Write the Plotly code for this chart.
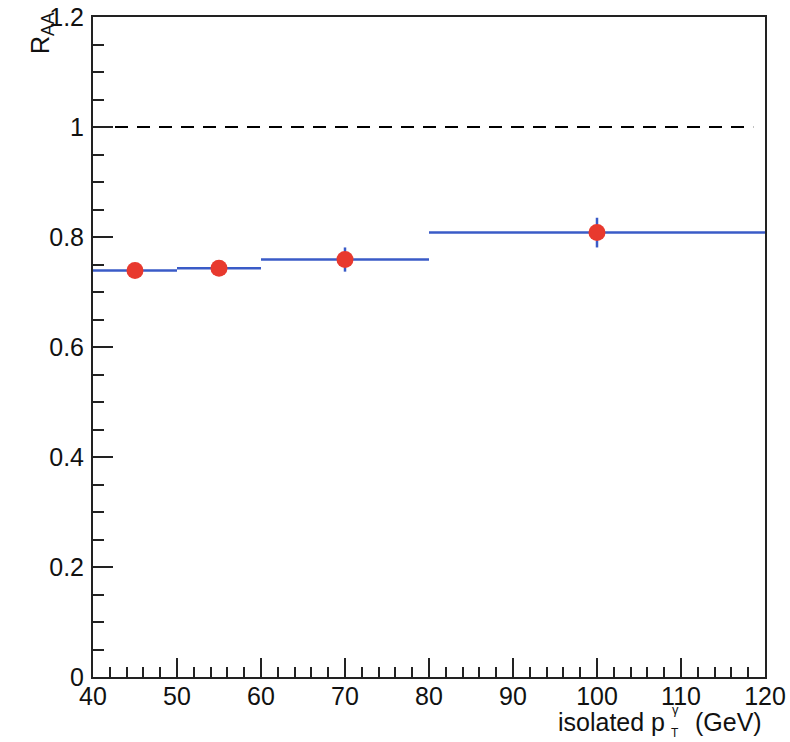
import plotly.graph_objects as go

# Data
pt_centers = [45, 55, 70, 100]
pt_halfwidth = [5, 5, 10, 20]
raa = [0.739, 0.743, 0.759, 0.808]
raa_err = [0.012, 0.012, 0.022, 0.027]
ref_x = [40, 118.6]
ref_y = [1.0, 1.0]

BLUE = "#3a5bc7"
RED = "#e8392e"
FONT = "Liberation Sans, Arial, Helvetica, sans-serif"

fig = go.Figure()

fig.add_trace(go.Scatter(
    x=ref_x, y=ref_y, mode="lines",
    line=dict(color="black", width=2, dash="13px,9px"),
    showlegend=False, hoverinfo="skip"))

fig.add_trace(go.Scatter(
    x=pt_centers, y=raa, mode="markers",
    marker=dict(color=RED, size=17, line=dict(width=0)),
    error_x=dict(type="data", array=pt_halfwidth, color=BLUE, thickness=2.5, width=0),
    error_y=dict(type="data", array=raa_err, color=BLUE, thickness=2.5, width=0),
    showlegend=False))

L, R, T, B = 93, 25, 17, 65
W, H = 790, 742
pw, ph = W - L - R, H - T - B

def px(x):
    return (x - L) / pw

def py(y):
    return (H - B - y) / ph

fig.update_layout(
    width=W, height=H,
    margin=dict(l=L, r=R, t=T, b=B, pad=0),
    paper_bgcolor="white", plot_bgcolor="white",
    font=dict(family=FONT, size=25, color="#111"),
    xaxis=dict(range=[40, 120], dtick=10, tick0=40, automargin=False,
               ticks="inside", ticklen=19, tickwidth=2, tickcolor="#222",
               minor=dict(dtick=2, ticks="inside", ticklen=10, tickwidth=2, tickcolor="#222"),
               showline=True, linewidth=2, linecolor="#222", mirror=True,
               showgrid=False, zeroline=False, ticklabelstandoff=-4,
               tickfont=dict(size=25)),
    yaxis=dict(range=[0, 1.2], dtick=0.2, tick0=0, automargin=False,
               ticks="inside", ticklen=20, tickwidth=2, tickcolor="#222",
               minor=dict(dtick=0.05, ticks="inside", ticklen=11, tickwidth=2, tickcolor="#222"),
               showline=True, linewidth=2, linecolor="#222", mirror=True,
               showgrid=False, zeroline=False, ticklabelstandoff=2,
               tickfont=dict(size=25)),
)

ann = [
    dict(text="R<sub>AA</sub>", x=px(42), y=py(10), xanchor="center", yanchor="top",
         textangle=-90, font=dict(size=25)),
    dict(text="isolated p", x=px(667), y=py(722), xanchor="right", yanchor="middle",
         font=dict(size=25)),
    dict(text="γ", x=px(675), y=py(709), xanchor="center", yanchor="middle",
         font=dict(size=13)),
    dict(text="T", x=px(675), y=py(733), xanchor="center", yanchor="middle",
         font=dict(size=12)),
    dict(text="(GeV)", x=px(764), y=py(722), xanchor="right", yanchor="middle",
         font=dict(size=25)),
]
for a in ann:
    fig.add_annotation(xref="paper", yref="paper", showarrow=False, **a)

fig.write_html("out.html")
